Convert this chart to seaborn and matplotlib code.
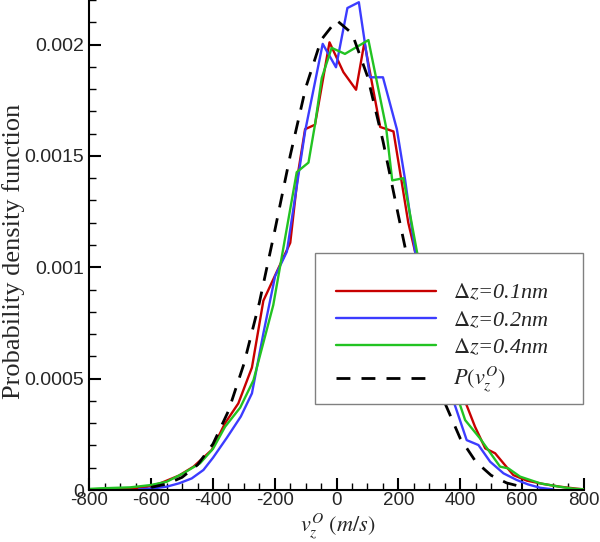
import matplotlib
matplotlib.use("Agg")
import matplotlib.pyplot as plt
import seaborn as sns
from matplotlib.patches import Rectangle
from matplotlib.ticker import MultipleLocator, FuncFormatter

# PDF curves (v in m/s, density in s/m)
red_v = [-800, -700, -620, -571, -510, -463, -404, -361, -318, -274, -237, -150, -124,
         -102, -70, -23, 22, 63, 90, 141, 184, 211, 232, 254, 300, 350, 390, 421, 448,
         481, 513, 540, 572, 616, 669, 723, 777, 800]
red_p = [0.000002, 0.000005, 0.000012, 0.00003, 0.000065, 0.000105, 0.00018, 0.0003,
         0.000389, 0.00055, 0.00085, 0.00111, 0.00143, 0.00162, 0.00164, 0.00201,
         0.001876, 0.001797, 0.00201, 0.00163, 0.00161, 0.00138, 0.0012, 0.00107,
         0.00083, 0.00062, 0.00047, 0.00038, 0.000284, 0.000187, 0.000165, 0.00012,
         0.000067, 0.000042, 0.000027, 0.000015, 0.000006, 0.000003]

blue_v = [-640, -590, -550, -510, -469, -431, -400, -355, -310, -274, -237, -199, -161,
          -102, -45, -2, 35, 72, 108, 150, 195, 222, 254, 290, 330, 383, 421, 459, 497,
          540, 583, 620, 659, 700]
blue_p = [0.000003, 0.000008, 0.000015, 0.00003, 0.000052, 0.00009, 0.000145, 0.000235,
          0.00033, 0.000434, 0.000703, 0.00096, 0.00107, 0.00161, 0.002003, 0.001898,
          0.002164, 0.00219, 0.001853, 0.001853, 0.00162, 0.00139, 0.00107, 0.00082,
          0.0006, 0.00038, 0.000224, 0.000202, 0.000127, 0.000075, 0.000045, 0.000025,
          0.00001, 0.000003]

green_v = [-800, -766, -668, -603, -550, -496, -442, -400, -361, -312, -269, -205, -129,
           -91, -70, -48, -16, 27, 103, 160, 180, 216, 260, 300, 350, 400, 416, 464, 529,
           556, 594, 659, 720, 766, 800]
green_p = [0.000005, 0.0000075, 0.000012, 0.000022, 0.000037, 0.000075, 0.00012, 0.000185,
           0.000284, 0.00037, 0.000493, 0.00083, 0.001427, 0.00147, 0.00164, 0.00185,
           0.001985, 0.001958, 0.00202, 0.00163, 0.00139, 0.0014, 0.00107, 0.00085,
           0.00062, 0.00038, 0.000314, 0.000232, 0.000105, 0.000097, 0.00006, 0.00003,
           0.000015, 0.000006, 0.000003]

# theoretical curve P(v_z^O)
theory_v = [-600, -550, -500, -450, -400, -350, -300, -250, -200, -150, -100, -50, 0,
            50, 100, 150, 200, 250, 300, 350, 400, 450, 500, 550, 600]
theory_p = [0.000012, 0.000027, 0.000057, 0.000113, 0.000207, 0.000355, 0.000566,
            0.000841, 0.001165, 0.001502, 0.001806, 0.002021, 0.002109, 0.00205,
            0.001857, 0.001567, 0.001232, 0.000903, 0.000616, 0.000392, 0.000232,
            0.000128, 0.000066, 0.000032, 0.000014]

labels = [r"$\Delta z$=0.1nm", r"$\Delta z$=0.2nm", r"$\Delta z$=0.4nm", r"$P(v_z^O)$"]

sns.set_theme(style="ticks")
plt.rcParams["font.family"] = ["Liberation Sans", "DejaVu Sans"]
plt.rcParams["mathtext.fontset"] = "stix"
plt.rcParams["axes.unicode_minus"] = False

fig = plt.figure(figsize=(6, 5.42), dpi=100)
ax = fig.add_axes([0.149, 0.0959, 0.824, 0.9041])

series = [(red_v, red_p, "#c80000"), (blue_v, blue_p, "#3c3cff"), (green_v, green_p, "#22c322")]
for (v, p, c), lab in zip(series, labels[:3]):
    sns.lineplot(x=v, y=p, ax=ax, color=c, linewidth=1.7, errorbar=None, label=lab, legend=False)
sns.lineplot(x=theory_v, y=theory_p, ax=ax, color="black", linewidth=2.0,
             linestyle=(0, (5, 4)), errorbar=None, label=labels[3], legend=False)

ax.set_xlim(-800, 800)
ax.set_ylim(0, 0.0022)
sns.despine(ax=ax)
for s in ["left", "bottom"]:
    ax.spines[s].set_linewidth(1.5)
    ax.spines[s].set_color("black")

ax.xaxis.set_major_locator(MultipleLocator(200))
ax.xaxis.set_minor_locator(MultipleLocator(50))
ax.yaxis.set_major_locator(MultipleLocator(0.0005))
ax.yaxis.set_minor_locator(MultipleLocator(0.0001))
ax.yaxis.set_major_formatter(FuncFormatter(lambda y, _: "0" if abs(y) < 1e-12 else f"{y:.4f}".rstrip("0")))
ax.tick_params(which="both", direction="in", color="black")
ax.tick_params(which="major", length=8.5, width=1.5)
ax.tick_params(which="minor", length=5, width=1)
ax.tick_params(axis="x", labelsize=13.5, pad=1.5)
ax.tick_params(axis="y", labelsize=14, pad=4)

ax.set_xlabel(r"$v_z^O\ (m/s)$", fontsize=16)
ax.xaxis.set_label_coords(0.503, -0.076)
ax.xaxis.label.set_va("center")
ax.set_ylabel("Probability density function", family="Liberation Serif", fontsize=19)
ax.yaxis.set_label_coords(-0.153, 0.486)
ax.yaxis.label.set_va("center")

# legend box drawn on top of the curves
box = Rectangle((315 / 600, 1 - 404 / 542), (583 - 315) / 600, (404 - 253) / 542,
                transform=fig.transFigure, facecolor="white", edgecolor="#808080",
                linewidth=1, zorder=3, clip_on=False)
ax.add_patch(box)
handles = ax.get_lines()
leg = ax.legend(handles, labels, loc="upper left", bbox_to_anchor=(336 / 600, 1 - 283 / 542),
                bbox_transform=fig.transFigure, frameon=False,
                prop={"family": "Liberation Serif", "style": "italic", "size": 16},
                handlelength=4.5, handletextpad=0.75, labelspacing=0.3, borderpad=0,
                borderaxespad=0)
leg.set_zorder(5)

fig.savefig("out.png", dpi=100)
